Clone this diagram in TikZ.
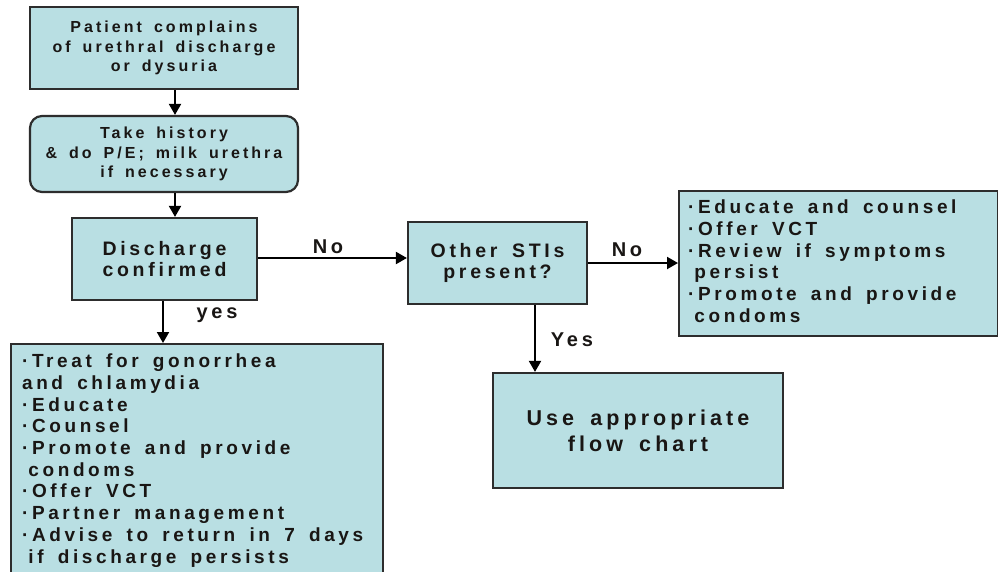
\documentclass[tikz,border=0pt]{standalone}
\usepackage{fontspec}
\setmainfont{Liberation Sans}[LetterSpace=19, WordSpace=1.6]
\usetikzlibrary{arrows.meta}

\definecolor{boxfill}{RGB}{185,223,227}
\definecolor{boxline}{RGB}{45,45,45}
\definecolor{ink}{RGB}{25,22,20}

\tikzset{
  card/.style={draw=boxline, line width=2.2pt, fill=boxfill, inner sep=0pt,
    text=ink, align=center},
  small/.style={font=\fontsize{16}{19.5}\selectfont\bfseries},
  big/.style={font=\fontsize{19.5}{21}\selectfont\bfseries},
  listtext/.style={font=\fontsize{19}{21.7}\selectfont\bfseries},
  listbox/.style={card, listtext, align=left, anchor=north west},
  link/.style={draw=black, line width=2pt, -{Triangle[length=11pt,width=12pt]}},
  tag/.style={text=ink, font=\fontsize{20}{20}\selectfont\bfseries}
}
% left-aligned lines that keep the font's own word spacing
\newcommand{\linestack}[1]{\spaceskip=0pt\xspaceskip=0pt\relax
  \begin{tabular}{@{}l@{}}#1\end{tabular}}

\begin{document}
\begin{tikzpicture}[x=1pt, y=-1pt]
  \useasboundingbox[fill=white] (0,0) rectangle (998,571);

  % main column
  \node[card, small, minimum width=268pt, minimum height=82pt] (complaint) at (164,48)
    {Patient complains\\of urethral discharge\\or dysuria};
  \node[card, small, rounded corners=12pt, minimum width=268pt, minimum height=76pt] (history) at (164,154)
    {Take history\\\& do P/E; milk urethra\\if necessary};
  \node[card, big, minimum width=185pt, minimum height=82pt] (confirmed) at (164.5,259)
    {Discharge\\confirmed};

  % right branch
  \node[card, big, minimum width=179pt, minimum height=82pt] (others) at (497.5,263)
    {Other STIs\\present?};
  \node[listbox, inner xsep=9pt, text width=301pt, minimum height=145pt] (educate) at (678,190)
    {\linestack{%
     ·Educate and counsel\\
     ·Offer VCT\\
     ·Review if symptoms\\
     \hphantom{·}persist\\
     ·Promote and provide\\
     \hphantom{·}condoms}};
  \node[card, font=\fontsize{21.5}{26}\selectfont\bfseries, minimum width=290pt, minimum height=115pt] (chart) at (638,430.5)
    {Use appropriate\\flow chart};

  % treatment box, running off the lower edge
  \node[listbox, inner xsep=11pt, text width=350pt, minimum height=234pt] (treat) at (10,343)
    {\linestack{%
     ·Treat for gonorrhea\\
     and chlamydia\\
     ·Educate\\
     ·Counsel\\
     ·Promote and provide\\
     \hphantom{·}condoms\\
     ·Offer VCT\\
     ·Partner management\\
     ·Advise to return in 7 days\\
     \hphantom{·}if discharge persists}};

  % connectors
  \draw[link] ([xshift=11pt]complaint.south) -- ([xshift=11pt]history.north);
  \draw[link] ([xshift=11pt]history.south) -- ([xshift=10.5pt]confirmed.north);
  \draw[link] ([yshift=1pt]confirmed.east) -- ([yshift=1pt]confirmed.east -| others.west);
  \draw[link] (others.east) -- (others.east -| educate.west);
  \draw[link] ([xshift=37.5pt]others.south) -- ([xshift=37.5pt]others.south |- chart.north);
  \draw[link] ([xshift=-1.5pt]confirmed.south) -- ([xshift=-1.5pt]confirmed.south |- treat.north);

  % branch labels
  \node[tag] (noA) at (328,247) {No};
  \node[tag] (noB) at (627,250) {No};
  \node[tag] (yesA) at (572,340) {Yes};
  \node[tag] (yesB) at (217,315) {yes};
\end{tikzpicture}
\end{document}
